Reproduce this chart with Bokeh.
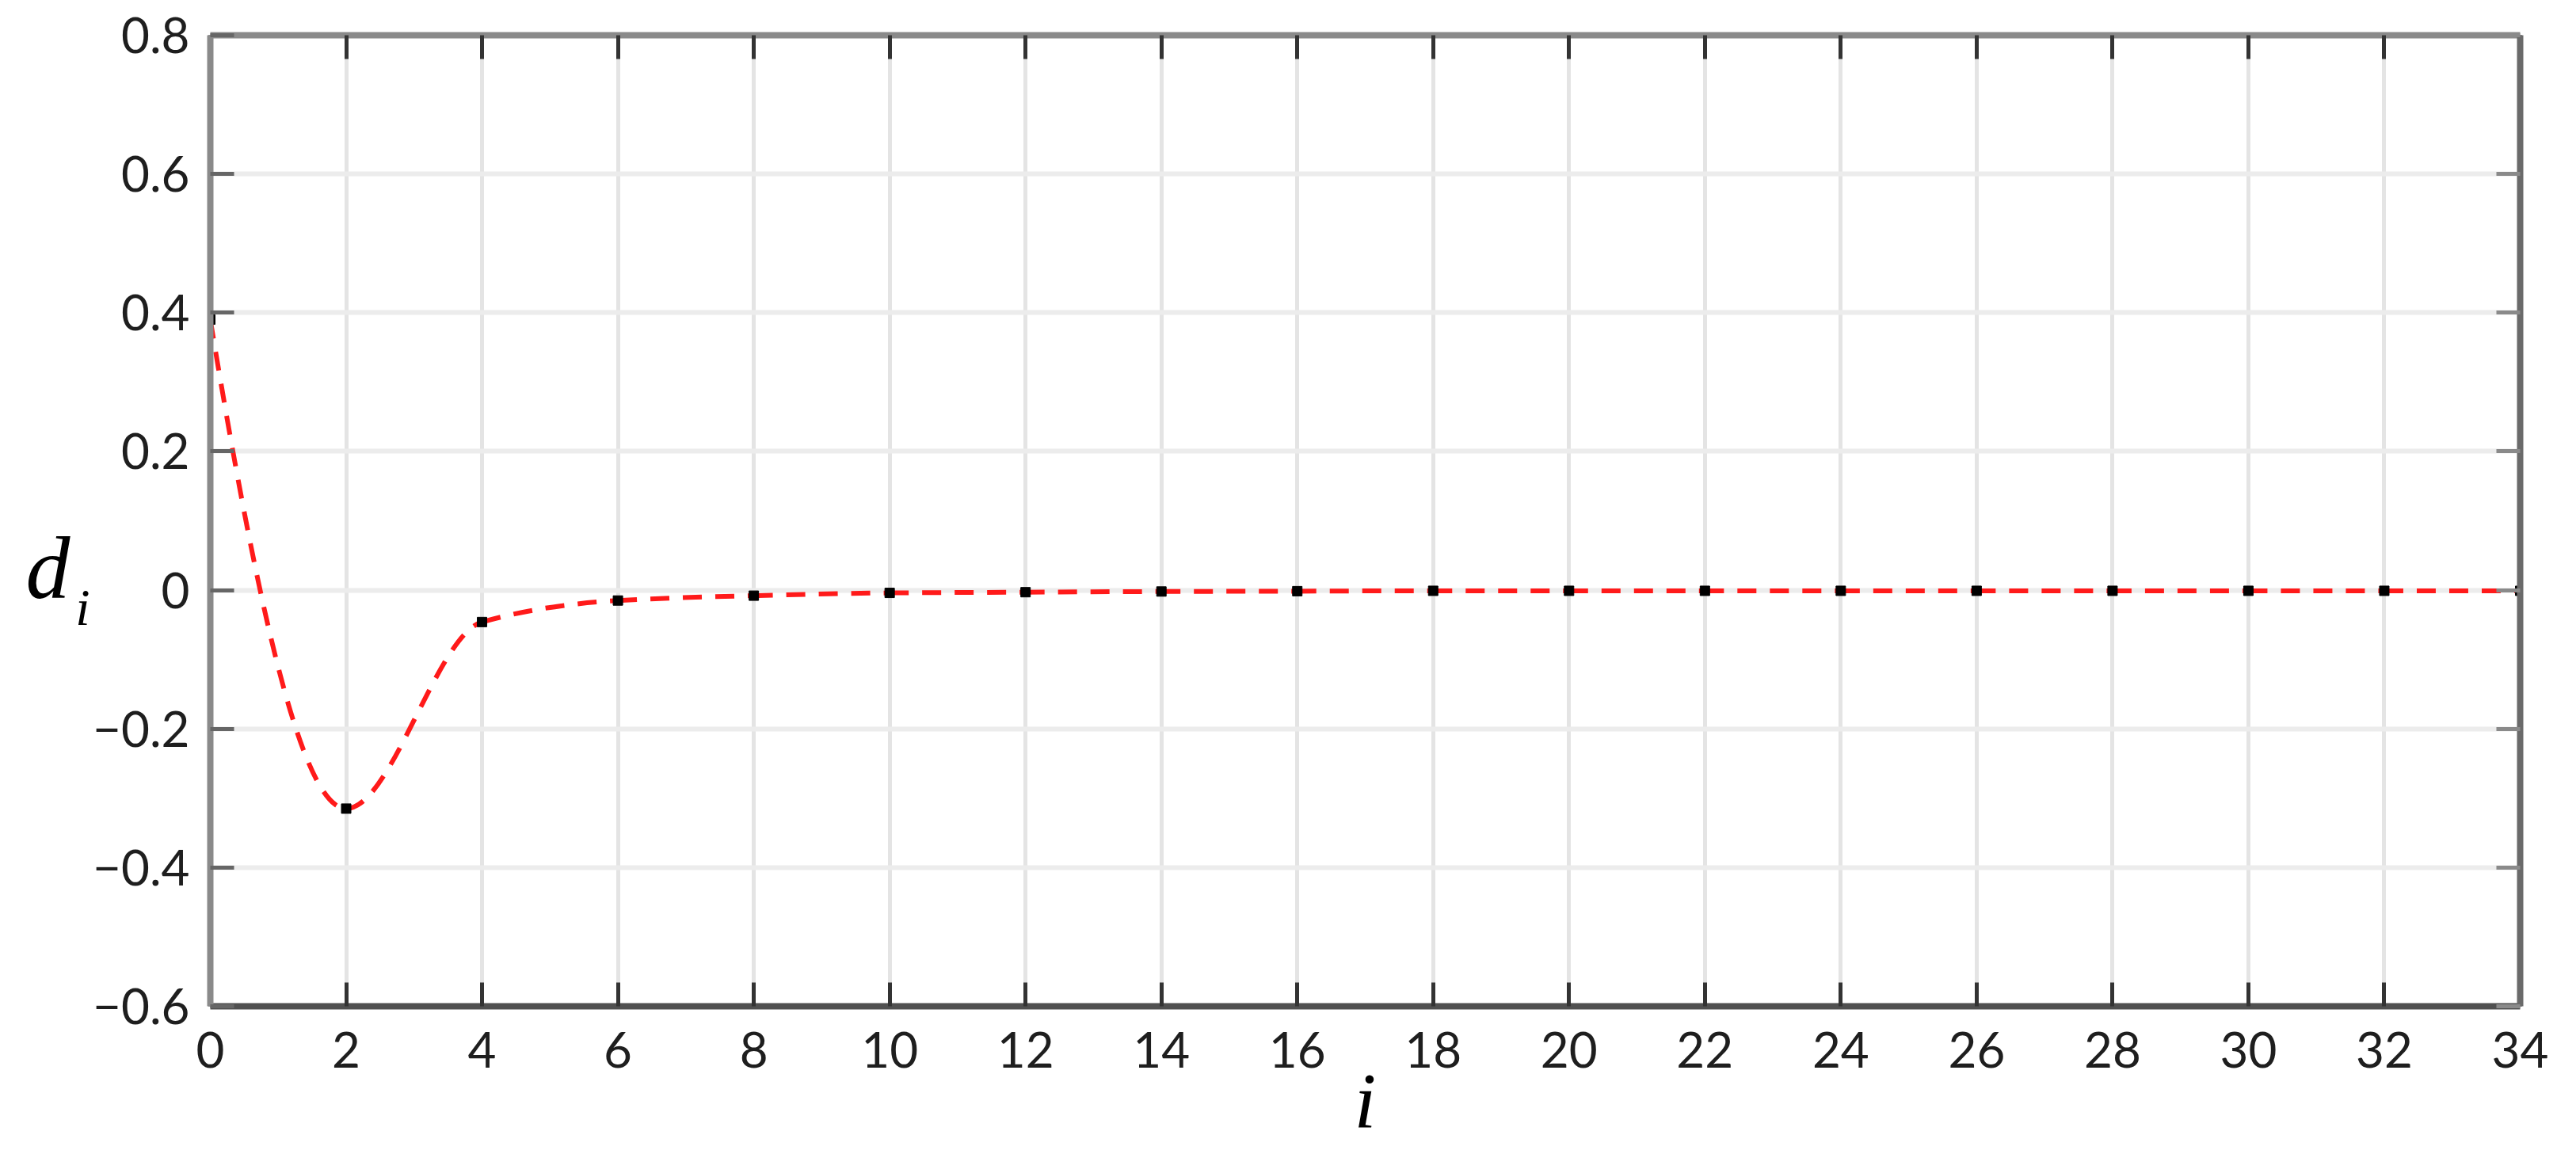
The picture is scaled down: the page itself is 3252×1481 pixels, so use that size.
import numpy as np
from bokeh.plotting import figure
from bokeh.models import Range1d, FixedTicker, LinearAxis, CustomJSTickFormatter
from bokeh.embed import file_html
from bokeh.resources import INLINE

# ---- data ----
i_vals = [0, 2, 4, 6, 8, 10, 12, 14, 16, 18, 20, 22, 24, 26, 28, 30, 32, 34]
d_vals = [0.39, -0.315, -0.046, -0.015, -0.008, -0.004, -0.003, -0.002, -0.0015,
          -0.001, -0.001, -0.001, -0.001, -0.001, -0.001, -0.001, -0.001, -0.001]
x_ticks = list(range(0, 35, 2))
y_ticks = [-0.6, -0.4, -0.2, 0.0, 0.2, 0.4, 0.6, 0.8]
y_label_main = "d"
y_label_sub = "i"
x_label = "i"

# ---- shape-preserving (pchip) curve through the points, drawn as bezier segments ----
x = np.array(i_vals, dtype=float)
y = np.array(d_vals, dtype=float)
h = np.diff(x)
delta = np.diff(y) / h
n = len(x)
m = np.zeros(n)
for k in range(1, n - 1):
    if delta[k - 1] * delta[k] <= 0:
        m[k] = 0.0
    else:
        w1 = 2 * h[k] + h[k - 1]
        w2 = h[k] + 2 * h[k - 1]
        m[k] = (w1 + w2) / (w1 / delta[k - 1] + w2 / delta[k])


def end_slope(h0, h1, d0, d1):
    s = ((2 * h0 + h1) * d0 - h0 * d1) / (h0 + h1)
    if np.sign(s) != np.sign(d0):
        s = 0.0
    elif np.sign(d0) != np.sign(d1) and abs(s) > abs(3 * d0):
        s = 3 * d0
    return s


m[0] = end_slope(h[0], h[1], delta[0], delta[1])
m[-1] = end_slope(h[-1], h[-2], delta[-1], delta[-2])

cx0 = x[:-1] + h / 3
cy0 = y[:-1] + m[:-1] * h / 3
cx1 = x[1:] - h / 3
cy1 = y[1:] - m[1:] * h / 3

W, H = 3236, 1465
p = figure(width=W, height=H, output_backend="svg", toolbar_location=None,
           x_range=Range1d(0, 34), y_range=Range1d(-0.6, 0.8),
           min_border_left=265, min_border_right=55, min_border_top=44,
           min_border_bottom=195, x_axis_location=None, y_axis_location=None)
p.outline_line_color = None
p.background_fill_color = "white"
p.border_fill_color = "white"

TICK_FONT = "Lato"
TICK_SIZE = "62px"

# grid
p.xgrid.ticker = FixedTicker(ticks=x_ticks)
p.ygrid.ticker = FixedTicker(ticks=y_ticks)
p.xgrid.grid_line_color = "#e4e4e4"
p.ygrid.grid_line_color = "#ececec"
p.xgrid.grid_line_width = 5
p.ygrid.grid_line_width = 6

yfmt = CustomJSTickFormatter(code="""
if (Math.abs(tick) < 1e-9) { return '0'; }
return (tick < 0 ? '\u2212' : '') + Math.abs(tick).toFixed(1);
""")


def style_axis(ax, line_color, tick_color, labels=True):
    ax.axis_line_color = line_color
    ax.axis_line_width = 8
    ax.major_tick_line_color = tick_color
    ax.major_tick_line_width = 5
    ax.major_tick_in = 30
    ax.major_tick_out = 0
    ax.minor_tick_line_color = None
    if labels:
        ax.major_label_text_font = TICK_FONT
        ax.major_label_text_font_size = TICK_SIZE
        ax.major_label_text_color = "#1e1e1e"
    else:
        ax.major_label_text_font_size = "1px"
        ax.major_label_text_color = None
        ax.major_label_standoff = 0


bottom = LinearAxis(ticker=FixedTicker(ticks=x_ticks))
style_axis(bottom, "#505050", "#333333")
bottom.major_label_standoff = 32
bottom.axis_label = x_label
bottom.axis_label_text_font = "Liberation Serif"
bottom.axis_label_text_font_style = "italic"
bottom.axis_label_text_font_size = "100px"
bottom.axis_label_text_color = "black"
bottom.axis_label_standoff = -17
p.add_layout(bottom, "below")

top = LinearAxis(ticker=FixedTicker(ticks=x_ticks))
style_axis(top, "#8a8a8a", "#333333", labels=False)
p.add_layout(top, "above")

left = LinearAxis(ticker=FixedTicker(ticks=y_ticks), formatter=yfmt)
style_axis(left, "#8a8a8a", "#666666")
left.major_label_standoff = 26
p.add_layout(left, "left")


def label_axis(text, at, size, standoff):
    ax = LinearAxis(ticker=FixedTicker(ticks=[at]),
                    formatter=CustomJSTickFormatter(args=dict(t=text), code="return t;"))
    ax.axis_line_color = None
    ax.major_tick_line_color = None
    ax.minor_tick_line_color = None
    ax.major_tick_in = 0
    ax.major_tick_out = 0
    ax.major_label_text_font = "Liberation Serif"
    ax.major_label_text_font_style = "italic"
    ax.major_label_text_font_size = size
    ax.major_label_text_color = "black"
    ax.major_label_standoff = standoff
    return ax


# y-axis label "d" with subscript "i", drawn as labels of two bare left axes
p.add_layout(label_axis(y_label_sub, -0.025, "66px", 0), "left")
p.add_layout(label_axis(y_label_main, 0.032, "112px", 4), "left")

right = LinearAxis(ticker=FixedTicker(ticks=y_ticks))
style_axis(right, "#6a6a6a", "#8a8a8a", labels=False)
p.add_layout(right, "right")

# curve + points
p.bezier(x0=x[:-1], y0=y[:-1], x1=x[1:], y1=y[1:], cx0=cx0, cy0=cy0, cx1=cx1, cy1=cy1,
         line_color="#ff1a1a", line_width=6, line_dash="24 17")
p.scatter(x=i_vals, y=d_vals, marker="square", size=12, fill_color="black",
          line_color="black")

open("out.html", "w").write(file_html(p, INLINE))
